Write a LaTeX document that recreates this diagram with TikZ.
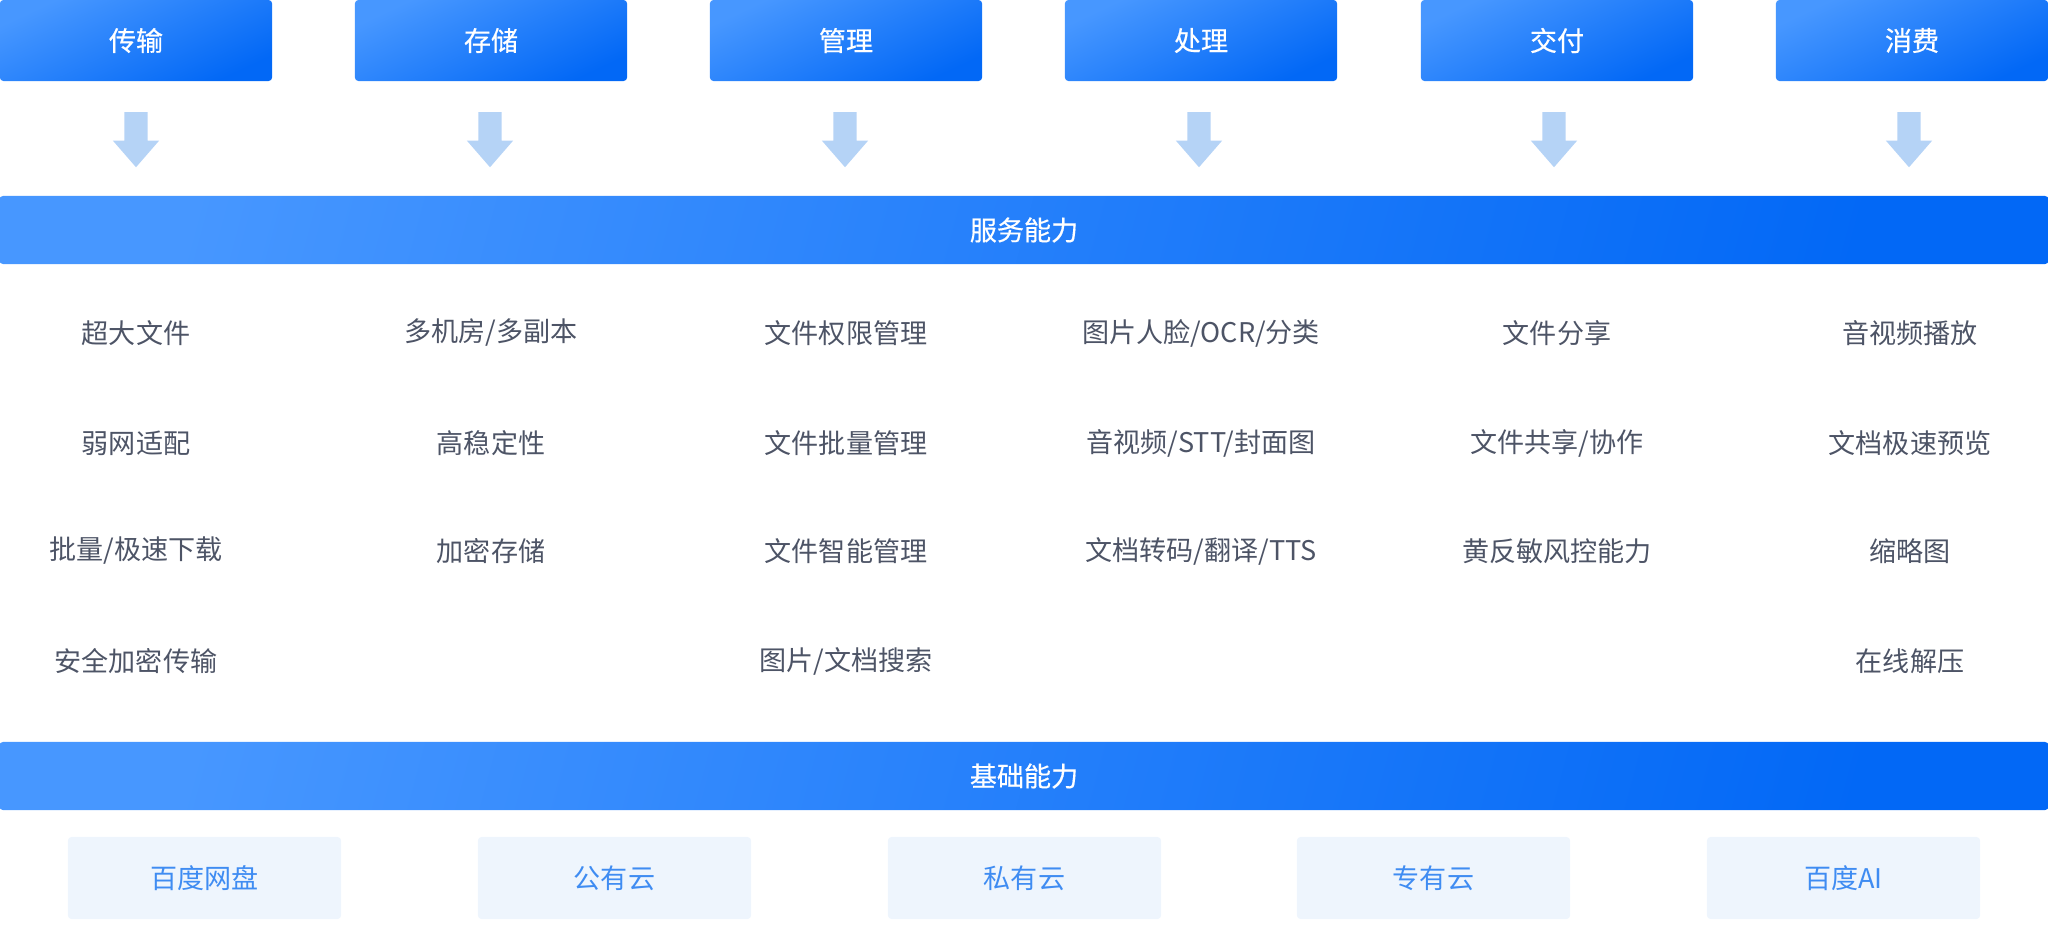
\documentclass[tikz,border=0pt]{standalone}
\usepackage{fontspec}
\setmainfont{Noto Sans CJK SC}
\newfontfamily\hdfont[FakeBold=0.5]{Noto Sans CJK SC}
\usetikzlibrary{shapes.arrows}

\definecolor{hdlight}{HTML}{4797FF}
\definecolor{hddark}{HTML}{0268F6}
\definecolor{arrowblue}{HTML}{B5D3F6}
\definecolor{itemgray}{HTML}{4D5466}
\definecolor{basefill}{HTML}{EEF5FD}
\definecolor{basetext}{HTML}{3F8CF2}

\tikzset{
  head/.style={top color=hdlight, bottom color=hddark, shading angle=25,
    rounded corners=1pt, minimum width=2.72cm, minimum height=0.81cm,
    text=white, font=\hdfont\fontsize{7.7pt}{9pt}\selectfont},
  bar/.style={left color=hdlight, right color=hddark, shading angle=75,
    rounded corners=1pt, minimum width=20.48cm, minimum height=0.68cm,
    text=white, font=\hdfont\fontsize{7.7pt}{9pt}\selectfont},
  down/.style={single arrow, shape border rotate=270, fill=arrowblue,
    inner sep=0.11cm, minimum width=0.45cm, minimum height=0.55cm,
    single arrow head extend=0.115cm, single arrow tip angle=82},
  item/.style={text=itemgray, font=\fontsize{7.7pt}{9pt}\selectfont},
  base/.style={fill=basefill, rounded corners=1pt, minimum width=2.73cm,
    minimum height=0.82cm, text=basetext, font=\fontsize{7.7pt}{9pt}\selectfont}
}

\begin{document}
\begin{tikzpicture}[x=0.01cm,y=0.01cm]
  \useasboundingbox (0,0) rectangle (2048,947);

  % top row
  \node[head] (T-1) at (136,906.5) {传输};
  \node[head] (T-2) at (491,906.5) {存储};
  \node[head] (T-3) at (846,906.5) {管理};
  \node[head] (T-4) at (1201,906.5) {处理};
  \node[head] (T-5) at (1557,906.5) {交付};
  \node[head] (T-6) at (1912,906.5) {消费};

  \node[down] (A-1) at (136,814) {};
  \node[down] (A-2) at (490,814) {};
  \node[down] (A-3) at (845,814) {};
  \node[down] (A-4) at (1199,814) {};
  \node[down] (A-5) at (1554,814) {};
  \node[down] (A-6) at (1909,814) {};

  \node[bar] (svc) at (1024,717) {服务能力};

  % service items
  \node[item] (S-1-1) at (136,614) {超大文件};
  \node[item] (S-1-2) at (136,504) {弱网适配};
  \node[item] (S-1-3) at (136,396) {批量/极速下载};
  \node[item] (S-1-4) at (136,286) {安全加密传输};

  \node[item] (S-2-1) at (491,614) {多机房/多副本};
  \node[item] (S-2-2) at (491,504) {高稳定性};
  \node[item] (S-2-3) at (491,396) {加密存储};

  \node[item] (S-3-1) at (846,614) {文件权限管理};
  \node[item] (S-3-2) at (846,504) {文件批量管理};
  \node[item] (S-3-3) at (846,396) {文件智能管理};
  \node[item] (S-3-4) at (846,286) {图片/文档搜索};

  \node[item] (S-4-1) at (1201,614) {图片人脸/OCR/分类};
  \node[item] (S-4-2) at (1201,504) {音视频/STT/封面图};
  \node[item] (S-4-3) at (1201,396) {文档转码/翻译/TTS};

  \node[item] (S-5-1) at (1557,614) {文件分享};
  \node[item] (S-5-2) at (1557,504) {文件共享/协作};
  \node[item] (S-5-3) at (1557,396) {黄反敏风控能力};

  \node[item] (S-6-1) at (1910,614) {音视频播放};
  \node[item] (S-6-2) at (1910,504) {文档极速预览};
  \node[item] (S-6-3) at (1910,396) {缩略图};
  \node[item] (S-6-4) at (1910,286) {在线解压};

  \node[bar] (basebar) at (1024,171) {基础能力};

  % bottom row
  \node[base] (B-1) at (204.5,69) {百度网盘};
  \node[base] (B-2) at (614.5,69) {公有云};
  \node[base] (B-3) at (1024.5,69) {私有云};
  \node[base] (B-4) at (1433.5,69) {专有云};
  \node[base] (B-5) at (1843.5,69) {百度AI};
\end{tikzpicture}
\end{document}
